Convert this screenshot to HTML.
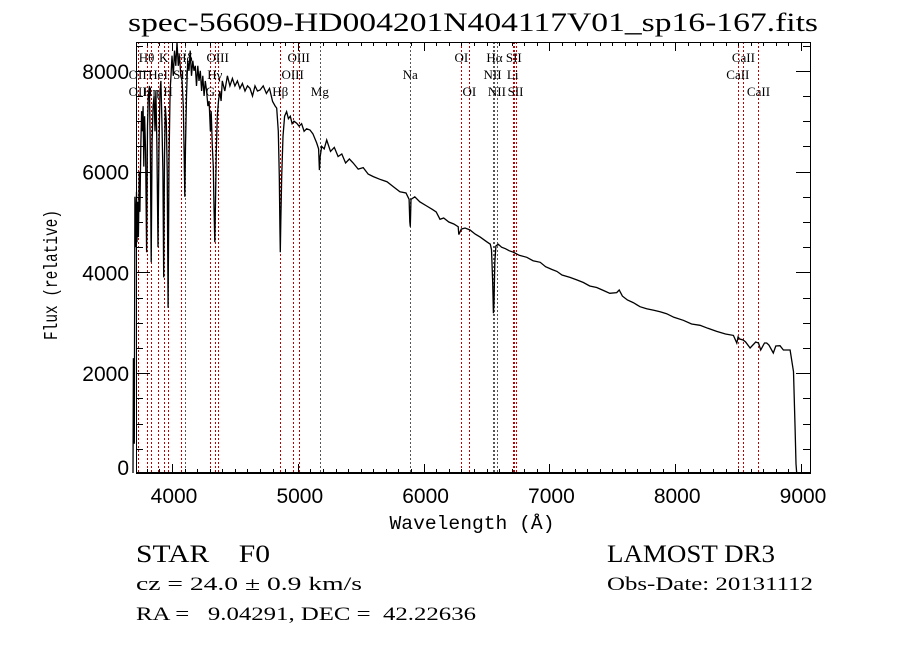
<!DOCTYPE html>
<html><head><meta charset="utf-8"><style>
html,body{margin:0;padding:0;background:#fff;}
svg{display:block;}
text{fill:#000;}
</style></head><body>
<svg id="chart" width="900" height="649" viewBox="0 0 900 649" xmlns="http://www.w3.org/2000/svg">
<rect width="900" height="649" fill="#fff"/>
<text x="473" y="31" text-anchor="middle" font-family="Liberation Serif, serif" font-size="26" textLength="690" lengthAdjust="spacingAndGlyphs">spec-56609-HD004201N404117V01_sp16-167.fits</text>
<g id="lines"></g>
<g id="linelabels"></g>
<path id="spec" fill="none" stroke="#000" stroke-width="1.3"/>
<g id="axes"></g>
<text x="472" y="529" text-anchor="middle" font-family="Liberation Mono, monospace" font-size="19" textLength="165" lengthAdjust="spacingAndGlyphs">Wavelength (Å)</text>
<text transform="translate(57,275) rotate(-90)" text-anchor="middle" font-family="Liberation Mono, monospace" font-size="19" textLength="130" lengthAdjust="spacingAndGlyphs">Flux (relative)</text>
<text x="136" y="562" font-family="Liberation Serif, serif" font-size="25" textLength="134" lengthAdjust="spacingAndGlyphs" xml:space="preserve">STAR    F0</text>
<text x="607" y="562" font-family="Liberation Serif, serif" font-size="25" textLength="168" lengthAdjust="spacingAndGlyphs">LAMOST DR3</text>
<text x="136" y="590" font-family="Liberation Serif, serif" font-size="19" textLength="226" lengthAdjust="spacingAndGlyphs">cz = 24.0 ± 0.9 km/s</text>
<text x="607" y="590" font-family="Liberation Serif, serif" font-size="19" textLength="206" lengthAdjust="spacingAndGlyphs">Obs-Date: 20131112</text>
<text x="136" y="620" font-family="Liberation Serif, serif" font-size="19" textLength="340" lengthAdjust="spacingAndGlyphs" xml:space="preserve">RA =   9.04291, DEC =  42.22636</text>
</svg>
<script>
const wavelengths = [3690,3693,3700,3705,3712,3718,3722,3727,3733,3740,3745,3752,3758,3763,3770,3776,3782,3790,3798,3805,3812,3820,3828,3835,3842,3850,3858,3865,3872,3880,3889,3897,3905,3912,3920,3928,3934,3940,3947,3955,3962,3969,3976,3985,3992,4000,4010,4020,4030,4040,4050,4060,4070,4080,4090,4097,4102,4107,4115,4125,4135,4145,4155,4165,4175,4185,4195,4205,4215,4225,4235,4245,4255,4265,4275,4285,4295,4305,4312,4320,4328,4334,4340,4346,4352,4360,4370,4380,4390,4400,4420,4440,4460,4480,4500,4520,4540,4560,4580,4600,4620,4640,4660,4680,4700,4725,4750,4775,4800,4820,4832,4845,4853,4858,4861,4865,4872,4882,4895,4911,4925,4940,4955,4970,4991,5010,5030,5050,5070,5097,5120,5150,5165,5172,5178,5190,5210,5230,5260,5290,5320,5350,5380,5410,5440,5480,5520,5560,5600,5650,5709,5760,5812,5860,5885,5890,5894,5900,5930,5970,6025,6070,6100,6130,6160,6200,6240,6275,6280,6300,6330,6369,6410,6450,6501,6530,6540,6549,6555,6560,6566,6575,6593,6620,6650,6680,6713,6760,6820,6870,6927,6970,7018,7060,7100,7164,7220,7270,7320,7376,7430,7480,7535,7555,7580,7620,7666,7720,7773,7830,7880,7932,7990,8064,8130,8197,8260,8330,8400,8463,8490,8500,8510,8540,8560,8595,8640,8662,8680,8710,8727,8745,8780,8800,8833,8860,8913,8940,8953,8960,8966,8970,8974];
const fluxes = [0,2300,600,5500,4500,5600,4600,5400,4700,6000,5200,6500,7200,6800,7300,6100,7100,6400,4400,6900,7500,7700,6300,4200,6600,7300,7500,6800,7600,6500,4500,6500,7600,7800,7000,6000,3900,6300,7300,7000,6000,3300,6200,7600,7900,8300,7900,8400,8100,8600,8100,8300,7900,7800,7300,6300,5500,6500,7500,8200,8000,8400,7900,8200,8000,8100,7700,8100,7800,8000,7600,7900,7500,7800,7600,7300,7400,6800,7200,6500,6100,5300,4600,5400,6400,7100,7400,7600,7400,7800,7600,7900,7700,7850,7700,7800,7650,7750,7600,7700,7650,7500,7700,7600,7620,7700,7550,7650,7390,7300,7260,6800,5900,4900,4400,5000,5900,6700,7100,7190,7050,7100,6950,7000,6960,6900,6950,6800,6850,6825,6750,6567,6450,6030,6300,6500,6450,6627,6400,6480,6300,6350,6170,6250,6170,6050,6080,5950,5900,5850,5800,5700,5600,5575,5450,5000,4907,5450,5500,5400,5317,5250,5200,5053,5080,5000,4960,4907,4750,4860,4880,4841,4760,4700,4610,4560,4450,3800,3190,3400,4200,4524,4560,4500,4470,4431,4400,4340,4300,4232,4200,4114,4060,4020,3948,3900,3850,3800,3730,3700,3640,3585,3600,3650,3530,3452,3400,3320,3280,3250,3221,3180,3109,3050,2976,2950,2890,2830,2778,2750,2600,2720,2680,2659,2620,2500,2620,2600,2460,2600,2600,2560,2400,2540,2546,2460,2460,2030,900,200,0];
const tickValuesX = [4000,5000,6000,7000,8000,9000];
const tickLabelsX = ["4000","5000","6000","7000","8000","9000"];
const tickValuesY = [0,2000,4000,6000,8000];
const tickLabelsY = ["0","2000","4000","6000","8000"];
const lineWaves = [3727,3798,3835,3889,3934,3969,4072,4102,4305,4340,4363,4861,4959,5007,5175,5894,6300,6364,6548,6563,6583,6708,6717,6731,8498,8542,8662];
const lineGray = [4102,5175,5894,6548,6563,6583];
const labelTexts = ["Hθ","K","Hδ","OIII","OIII","OI","Hα","SII","CaII","OII","HeI","SII","Hγ","OIII","Na","NII","Li","CaII","OII","Hη","H","G","Hβ","Mg","OI","NII","SII","CaII"];
const labelWaves = [3798,3934,4102,4363,5007,6300,6563,6717,8542,3727,3889,4072,4340,4959,5894,6548,6708,8498,3727,3835,3969,4305,4861,5175,6364,6583,6731,8662];
const labelRows = [0,0,0,0,0,0,0,0,0,1,1,1,1,1,1,1,1,1,2,2,2,2,2,2,2,2,2,2];

const L=136,R=810,T=42,B=473;
const xs = w => 172 + (w-4000)*0.1258;
const ys = f => 474 - f*0.0504;
const NS="http://www.w3.org/2000/svg";
function mk(tag, parent){const e=document.createElementNS(NS,tag);parent.appendChild(e);return e;}

const gl=document.getElementById('lines');
lineWaves.forEach(w=>{
  const l=mk('line',gl);
  
  
  const x=Math.round(xs(w))+0.5;
  l.setAttribute('x1',x);l.setAttribute('x2',x);l.setAttribute('y1',T);l.setAttribute('y2',B);
  l.setAttribute('stroke',lineGray.includes(w)?'#555':'#c00000');
  l.setAttribute('stroke-width','1');l.setAttribute('stroke-dasharray','2,2');
});
const glab=document.getElementById('linelabels');
const rowY=[62,79,96];
labelTexts.forEach((t,i)=>{
  const e=mk('text',glab);
  
  
  e.setAttribute('x',xs(labelWaves[i]));e.setAttribute('y',rowY[labelRows[i]]);
  e.setAttribute('text-anchor','middle');
  e.setAttribute('font-family','Liberation Serif, serif');e.setAttribute('font-size','13');
  e.textContent=t;
});

let d='';
for(let i=0;i<wavelengths.length;i++){
  const x=xs(wavelengths[i]); let y=ys(fluxes[i]); y=Math.max(T,Math.min(B,y));
  d+=(i?'L':'M')+x.toFixed(1)+','+y.toFixed(1);
}
document.getElementById('spec').setAttribute('d',d);

const ga=document.getElementById('axes');
const box=mk('rect',ga);


box.setAttribute('x',L+0.5);box.setAttribute('y',T+0.5);box.setAttribute('width',R-L);box.setAttribute('height',B-T);
box.setAttribute('fill','none');box.setAttribute('stroke','#000');box.setAttribute('stroke-width','1');
const thick=mk('line',ga);


thick.setAttribute('x1',L);thick.setAttribute('x2',R);thick.setAttribute('y1',B);thick.setAttribute('y2',B);
thick.setAttribute('stroke','#000');thick.setAttribute('stroke-width','2');
let tp='';
for(let w=3700;w<=9100;w+=100){
  const x=Math.round(xs(w))+0.5; if(x<L||x>R) continue;
  const len=(w%1000===0)?9:4;
  tp+=`M${x},${B}V${B-len}M${x},${T}V${T+len}`;
}
for(let f=0;f<=8500;f+=500){
  const y=Math.round(ys(f))+0.5; if(y<T||y>B) continue;
  const len=(f%2000===0)?14:7;
  tp+=`M${L},${y}H${L+len}M${R},${y}H${R-len}`;
}
const ticks=mk('path',ga);


ticks.setAttribute('d',tp);ticks.setAttribute('stroke','#000');ticks.setAttribute('stroke-width','1');
tickValuesX.forEach((v,i)=>{
  const e=mk('text',ga);
  
  
  e.setAttribute('x',xs(v)+2);e.setAttribute('y',503);e.setAttribute('text-anchor','middle');
  e.setAttribute('font-family','Liberation Sans, sans-serif');e.setAttribute('font-size','21');
  e.textContent=tickLabelsX[i];
});
tickValuesY.forEach((v,i)=>{
  const e=mk('text',ga);
  
  
  const y=v===0?ys(v)-7:ys(v);
  e.setAttribute('x',129);e.setAttribute('y',y+8);e.setAttribute('text-anchor','end');
  e.setAttribute('font-family','Liberation Sans, sans-serif');e.setAttribute('font-size','21');
  e.textContent=tickLabelsY[i];
});
</script>
</body></html>
